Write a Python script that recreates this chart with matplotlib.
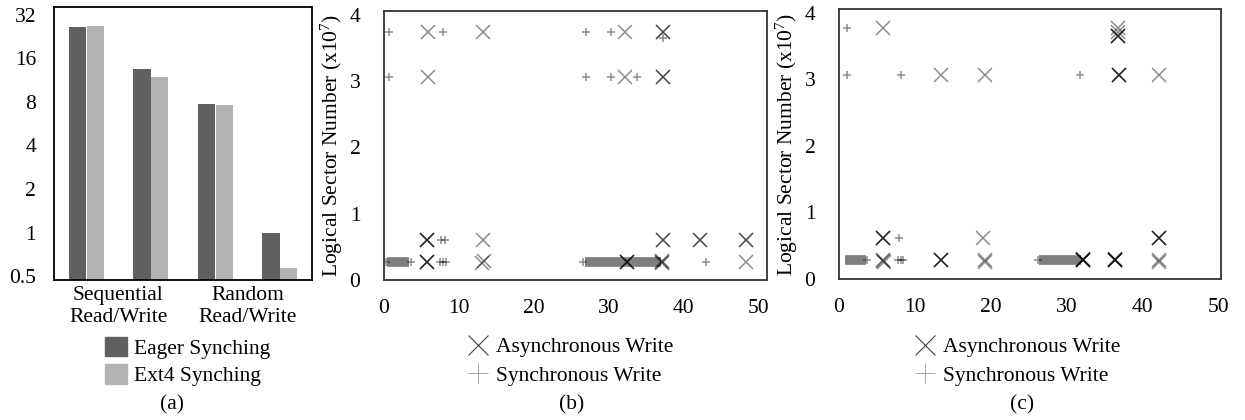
import numpy as np
import matplotlib
matplotlib.use("Agg")
import matplotlib.pyplot as plt
from matplotlib.patches import Patch
from matplotlib.lines import Line2D

plt.rcParams["font.family"] = ["Liberation Serif", "DejaVu Serif"]
plt.rcParams["mathtext.fontset"] = "custom"
plt.rcParams["mathtext.rm"] = "Liberation Serif"
plt.rcParams["mathtext.it"] = "Liberation Serif"

FS = 15.5

# ===============================
# Datos (a): throughput, escala log2
# ===============================
group_pos = [0, 1, 2, 3]
eager_vals = [26.5, 13.5, 7.7, 0.98]
ext4_vals = [26.8, 11.8, 7.55, 0.555]
group_labels = ["Sequential\nRead/Write", "Random\nRead/Write"]
group_label_pos = [0.5, 2.5]
y_ticks_a = [0.5, 1, 2, 4, 8, 16, 32]
y_ticklabels_a = ["0.5", "1", "2", "4", "8", "16", "32"]

# ===============================
# Datos (b): sector vs tiempo
# ===============================
b_async_x = [5.9, 13.2, 32.1, 37.2, 37.2,
             5.9, 32.1, 37.2, 37.2,
             5.8, 5.8, 5.8, 13.2, 37.2, 37.2, 42.2, 42.2, 48.3, 48.3,
             5.8, 5.8, 5.8, 13.1, 13.3, 32.4, 32.4, 32.4, 37.1, 37.1, 37.1, 48.3]
b_async_y = [3.74, 3.74, 3.74, 3.74, 3.74,
             3.07, 3.07, 3.07, 3.07,
             0.60, 0.60, 0.60, 0.60, 0.60, 0.60, 0.60, 0.60, 0.60, 0.60,
             0.27, 0.27, 0.27, 0.26, 0.28, 0.27, 0.27, 0.27, 0.27, 0.28, 0.26, 0.27]
b_sync_x = [0.7, 7.9, 26.9, 30.3, 37.2,
            0.7, 26.9, 30.3, 33.8,
            7.6, 8.1,
            7.5, 7.9, 8.3, 0.3, 3.6, 26.6, 43.0]
b_sync_y = [3.74, 3.74, 3.74, 3.74, 3.66,
            3.07, 3.07, 3.07, 3.07,
            0.60, 0.60,
            0.27, 0.27, 0.27, 0.27, 0.27, 0.27, 0.27]
b_band_start = [0.4, 26.8]
b_band_end = [3.4, 37.0]
b_band_y = [0.27, 0.27]

# ===============================
# Datos (c)
# ===============================
c_async_x = [5.8, 36.8, 36.8, 36.8, 36.8, 36.8,
             13.4, 19.2, 36.9, 36.9, 36.9, 42.2,
             5.8, 5.8, 5.8, 19.0, 42.2, 42.2, 42.2,
             5.8, 5.8, 5.9, 13.4, 13.4, 13.4, 19.2, 19.2,
             32.1, 32.1, 32.1, 32.1, 32.1, 36.3, 36.3, 36.3, 36.3, 36.3, 42.2, 42.2]
c_async_y = [3.77, 3.77, 3.71, 3.66, 3.66, 3.66,
             3.07, 3.07, 3.07, 3.07, 3.07, 3.07,
             0.62, 0.62, 0.62, 0.62, 0.62, 0.62, 0.62,
             0.28, 0.27, 0.25, 0.28, 0.28, 0.28, 0.28, 0.25,
             0.29, 0.29, 0.28, 0.28, 0.30, 0.29, 0.29, 0.28, 0.28, 0.30, 0.29, 0.26]
c_sync_x = [1.05,
            1.05, 8.1, 31.7,
            7.9,
            7.8, 8.1, 8.4, 3.7, 26.2]
c_sync_y = [3.77,
            3.07, 3.07, 3.07,
            0.62,
            0.28, 0.28, 0.28, 0.28, 0.28]
c_band_start = [0.8, 26.4]
c_band_end = [3.5, 31.8]
c_band_y = [0.28, 0.28]

W, H = 1245, 420
fig = plt.figure(figsize=(W / 100, H / 100), dpi=100)


def px_axes(left, top, right, bottom):
    return fig.add_axes([left / W, 1 - bottom / H, (right - left) / W, (bottom - top) / H])


# ===============================
# (a) Barras
# ===============================
ax_a = px_axes(54, 7, 312, 280)
bw = 0.27
ax_a.bar([p - 0.135 for p in group_pos], eager_vals, width=bw, bottom=0.01,
         color="#606060", label="Eager Synching")
ax_a.bar([p + 0.14 for p in group_pos], ext4_vals, width=bw, bottom=0.01,
         color="#b3b3b3", label="Ext4 Synching")
ax_a.set_yscale("log", base=2)
ax_a.set_ylim(0.47, 36.2)
ax_a.set_xlim(-0.5, 3.5)
ax_a.set_yticks(y_ticks_a, labels=y_ticklabels_a)
ax_a.minorticks_off()
ax_a.set_xticks(group_label_pos, labels=group_labels)
for lab in ax_a.get_xticklabels():
    lab.set_linespacing(1.25)
ax_a.tick_params(axis="y", length=0, pad=13, labelsize=FS)
ax_a.tick_params(axis="x", length=0, pad=4, labelsize=FS)
for s in ax_a.spines.values():
    s.set_linewidth(1.3)
ax_a.legend(handles=[Patch(color="#606060", label="Eager Synching"),
                     Patch(color="#b3b3b3", label="Ext4 Synching")],
            loc="upper left", bbox_to_anchor=(105 / W, 1 - 337 / H),
            bbox_transform=fig.transFigure, frameon=False, fontsize=FS,
            handlelength=1.0, handleheight=1.0, handletextpad=0.35,
            labelspacing=0.25, borderpad=0, borderaxespad=0)
fig.text(172 / W, 1 - 405 / H, "(a)", ha="center", va="center", fontsize=FS)


# ===============================
# (b) y (c) Dispersión
# ===============================
def scatter_panel(ax, ax_x, ax_y, sx, sy, bs, be, by, xmax):
    for s0, s1, yy in zip(bs, be, by):
        ax.plot([s0, s1], [yy, yy], color="black", alpha=0.5, lw=7,
                solid_capstyle="butt")
    ax.plot(sx, sy, ls="none", marker="+", ms=6, mew=1.1, color="black", alpha=0.45)
    ax.plot(ax_x, ax_y, ls="none", marker="x", ms=9.5, mew=1.1, color="black", alpha=0.45)
    ax.set_xlim(0, xmax)
    ax.set_ylim(0, 4.06)
    ax.set_xticks([0, 10, 20, 30, 40, 50])
    ax.set_yticks([0, 1, 2, 3, 4])
    ax.tick_params(axis="both", length=0, labelsize=FS)
    ax.tick_params(axis="x", pad=14)
    ax.tick_params(axis="y", pad=17)
    ax.set_ylabel(r"Logical Sector Number (x10$^{7}$)", fontsize=FS, labelpad=3)
    for s in ax.spines.values():
        s.set_linewidth(1.3)
        s.set_color("#333333")


ax_b = px_axes(384, 11, 767, 280)
scatter_panel(ax_b, b_async_x, b_async_y, b_sync_x, b_sync_y,
              b_band_start, b_band_end, b_band_y, 51.1)
ax_c = px_axes(839, 9, 1221, 279)
scatter_panel(ax_c, c_async_x, c_async_y, c_sync_x, c_sync_y,
              c_band_start, c_band_end, c_band_y, 50.3)

leg_handles = [Line2D([], [], ls="none", marker="x", ms=15, mew=0.8, color="#444444",
                      label="Asynchronous Write"),
               Line2D([], [], ls="none", marker="+", ms=15, mew=0.6, color="#999999",
                      label="Synchronous Write")]
for ax, xl in [(ax_b, 467), (ax_c, 914)]:
    ax.legend(handles=leg_handles, loc="upper left",
              bbox_to_anchor=(xl / W, 1 - 337 / H), bbox_transform=fig.transFigure,
              frameon=False, fontsize=FS, handlelength=1.0, handletextpad=0.35,
              labelspacing=0.4, borderpad=0, borderaxespad=0)

fig.text(572 / W, 1 - 405 / H, "(b)", ha="center", va="center", fontsize=FS)
fig.text(1022 / W, 1 - 405 / H, "(c)", ha="center", va="center", fontsize=FS)

fig.savefig("out.png", dpi=100)
